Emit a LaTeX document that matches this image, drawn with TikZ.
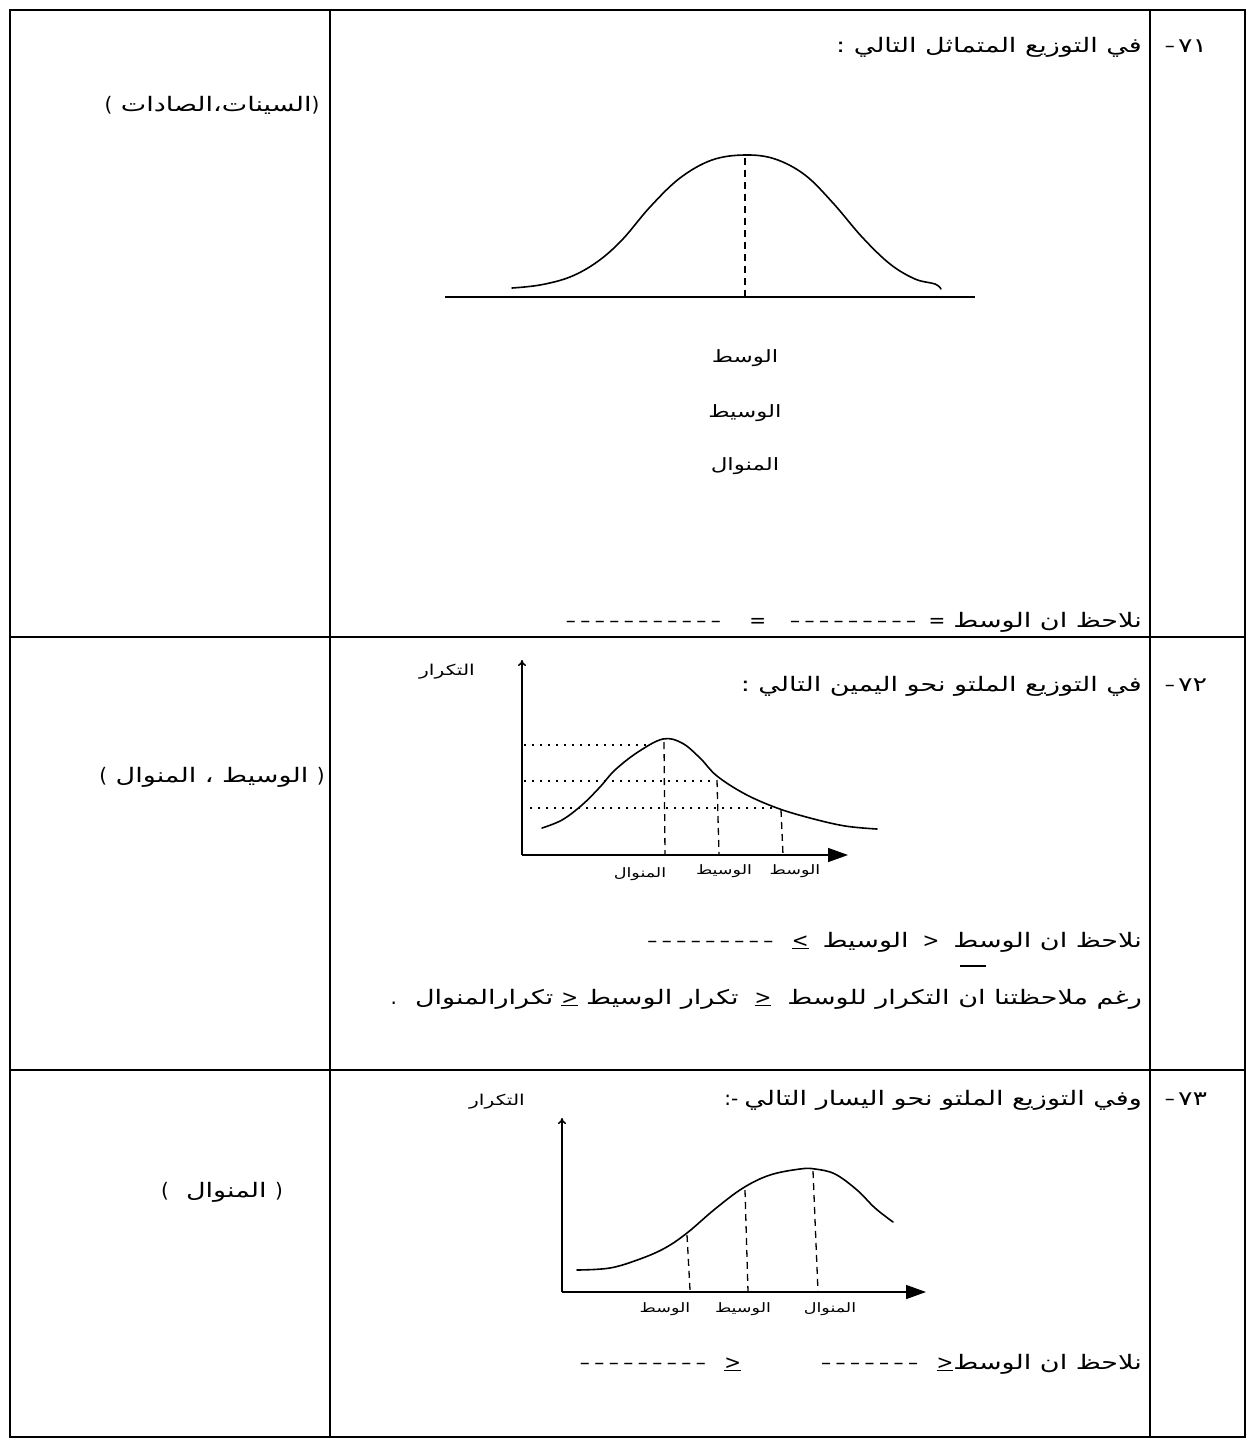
\documentclass[tikz,border=0pt]{standalone}
\usepackage{fontspec}
\TeXXeTstate=1
\newfontfamily\ar[Script=Arabic,FakeStretch=1.35]{DejaVu Sans}
\newfontfamily\lat{DejaVu Sans}
\usetikzlibrary{arrows.meta}
\newcommand{\AR}[1]{{\ar\beginR #1\endR}}
\newcommand{\dashrun}[1]{\hbox{\lat\foreach \k in {1,...,#1}{–\kern4.5pt}}}
\newcommand{\geu}{\vtop{\hbox{\lat >}\kern1pt\hrule height1.4pt}}
\newcommand{\leu}{\vtop{\hbox{\lat <}\kern1pt\hrule height1.4pt}}
\newcommand{\gtm}{\hbox{\lat >}}
\newcommand{\lp}{\hbox{\lat (}}
\newcommand{\rp}{\hbox{\lat )}}
\newcommand{\sym}[1]{\hbox{\lat #1}}
\begin{document}
\begin{tikzpicture}[x=1pt,y=-1pt,
  tbl/.style={line width=1.4pt},
  tblthick/.style={line width=2.2pt},
  txt/.style={inner sep=0pt, font=\ar\fontsize{20}{23}\selectfont},
  mid/.style={inner sep=0pt, font=\ar\fontsize{17}{20}\selectfont},
  lbl/.style={inner sep=0pt, font=\ar\fontsize{13}{15}\selectfont},
  axlbl/.style={inner sep=0pt, font=\ar\fontsize{15}{17}\selectfont},
  curve/.style={line width=1.6pt, line join=round, line cap=round},
  dsh/.style={line width=1.3pt, dash pattern=on 7pt off 5pt},
  dotl/.style={line width=1.5pt, dash pattern=on 1.5pt off 6.5pt},
  axis/.style={line width=1.5pt},
]
\useasboundingbox (0,0) rectangle (1252,1442);

% ---------- table ----------
\coordinate (TL) at (10,10);   \coordinate (TR) at (1245,10);
\coordinate (BL) at (10,1437); \coordinate (BR) at (1245,1437);
\coordinate (C1t) at (330,10); \coordinate (C1b) at (330,1437);
\coordinate (C2t) at (1150,10); \coordinate (C2b) at (1150,1437);
\coordinate (R1l) at (10,637); \coordinate (R1r) at (1245,637);
\coordinate (R2l) at (10,1070); \coordinate (R2r) at (1245,1070);
\draw[tbl] (TL) -- (TR) -- (BR) -- (BL) -- cycle;
\draw[tblthick] (C1t) -- (C1b);
\draw[tbl] (C2t) -- (C2b);
\draw[tbl] (R1l) -- (R1r);
\draw[tbl] (R2l) -- (R2r);

% ---------- row 71 ----------
\node[txt, anchor=base] (n71) at (1186,53) {\sym{–}\,\hbox{٧١}};
\node[txt, anchor=base east] (q71) at (1142,53) {\AR{في التوزيع المتماثل التالي :}};
\node[txt, anchor=base] (a71) at (212,112) {\lp\ \AR{السينات،الصادات}\rp};

\coordinate (b1l) at (445,297); \coordinate (b1r) at (975,297);
\draw[axis] (b1l) -- (b1r);
\draw[curve] plot[smooth, tension=0.6] coordinates {(512,288) (540,285) (570,277) (597,262) (622,240) (650,207) (680,178) (712,160) (745,155) (775,159) (805,175) (833,203) (862,237) (890,264) (915,279) (935,284) (941,289)};
\coordinate (m1t) at (745,158); \coordinate (m1b) at (745,297);
\draw[dsh] (m1t) -- (m1b);
\node[mid, anchor=base] (l1a) at (745,362) {\AR{الوسط}};
\node[mid, anchor=base] (l1b) at (745,417) {\AR{الوسيط}};
\node[mid, anchor=base] (l1c) at (745,470) {\AR{المنوال}};
\node[txt, anchor=base east] (s71) at (1142,627) {\dashrun{11}\hspace{24pt}\sym{=}\hspace{24pt}\dashrun{9}\hspace{8pt}\sym{=}\hspace{8pt}\AR{نلاحظ ان الوسط}};

% ---------- row 72 ----------
\node[txt, anchor=base] (n72) at (1186,691) {\sym{–}\,\hbox{٧٢}};
\node[txt, anchor=base east] (q72) at (1142,691) {\AR{في التوزيع الملتو نحو اليمين التالي :}};
\node[txt, anchor=base] (a72) at (212,782) {\lp\ \AR{الوسيط ، المنوال}\ \rp};

\coordinate (o2) at (522,855);
\coordinate (y2) at (522,660);
\coordinate (x2) at (848,855);
\draw[axis, -{To[length=6pt,width=8pt]}] (o2) -- (y2);
\draw[axis, -{Triangle[length=20pt,width=14pt]}] (o2) -- (x2);
\node[axlbl, anchor=base] (f2) at (447,675) {\AR{التكرار}};
\draw[curve] plot[smooth, tension=0.6] coordinates {(542,828) (562,820) (582,805) (600,787) (615,770) (638,752) (663,739) (682,743) (700,758) (717,776) (745,794) (777,808) (810,818) (845,826) (877,829)};
\coordinate (d2a) at (524,745); \coordinate (d2ae) at (650,745);
\coordinate (d2b) at (524,781); \coordinate (d2be) at (715,781);
\coordinate (d2c) at (530,808); \coordinate (d2ce) at (775,808);
\draw[dotl] (d2a) -- (d2ae);
\draw[dotl] (d2b) -- (d2be);
\draw[dotl] (d2c) -- (d2ce);
\coordinate (v2a) at (664,742); \coordinate (v2ab) at (665,855);
\coordinate (v2b) at (717,780); \coordinate (v2bb) at (719,855);
\coordinate (v2c) at (781,810); \coordinate (v2cb) at (783,855);
\draw[dsh] (v2a) -- (v2ab);
\draw[dsh] (v2b) -- (v2bb);
\draw[dsh] (v2c) -- (v2cb);
\node[lbl, anchor=base] (g2a) at (640,877) {\AR{المنوال}};
\node[lbl, anchor=base] (g2b) at (724,874) {\AR{الوسيط}};
\node[lbl, anchor=base] (g2c) at (795,874) {\AR{الوسط}};

\node[txt, anchor=base east] (s72a) at (1142,947) {\dashrun{9}\hspace{14pt}\leu\hspace{14pt}\AR{الوسيط}\hspace{14pt}\gtm\hspace{14pt}\AR{نلاحظ ان الوسط}};
\coordinate (u1) at (960,966); \coordinate (u2) at (986,966);
\draw[line width=1.4pt] (u1) -- (u2);
\node[txt, anchor=base east] (s72b) at (1142,1004) {\sym{.}\hspace{18pt}\AR{تكرارالمنوال}\hspace{8pt}\geu\hspace{8pt}\AR{تكرار الوسيط}\hspace{16pt}\geu\hspace{16pt}\AR{رغم ملاحظتنا ان التكرار للوسط}};

% ---------- row 73 ----------
\node[txt, anchor=base] (n73) at (1186,1105) {\sym{–}\,\hbox{٧٣}};
\node[txt, anchor=base east] (q73) at (1142,1105) {\sym{:-}\hspace{6pt}\AR{وفي التوزيع الملتو نحو اليسار التالي}};
\node[txt, anchor=base] (a73) at (222,1197) {\lp\ \ \AR{المنوال}\ \rp};

\coordinate (o3) at (562,1292);
\coordinate (y3) at (562,1118);
\coordinate (x3) at (926,1292);
\draw[axis, -{To[length=6pt,width=8pt]}] (o3) -- (y3);
\draw[axis, -{Triangle[length=20pt,width=14pt]}] (o3) -- (x3);
\node[axlbl, anchor=base] (f3) at (497,1105) {\AR{التكرار}};
\draw[curve] plot[smooth, tension=0.6] coordinates {(577,1270) (610,1268) (640,1259) (665,1248) (687,1233) (715,1209) (743,1188) (770,1175) (800,1169) (815,1169) (835,1174) (857,1190) (875,1208) (893,1222)};
\coordinate (v3a) at (687,1235); \coordinate (v3ab) at (690,1290);
\coordinate (v3b) at (745,1190); \coordinate (v3bb) at (748,1292);
\coordinate (v3c) at (813,1171); \coordinate (v3cb) at (818,1292);
\draw[dsh] (v3a) -- (v3ab);
\draw[dsh] (v3b) -- (v3bb);
\draw[dsh] (v3c) -- (v3cb);
\node[lbl, anchor=base] (g3a) at (665,1312) {\AR{الوسط}};
\node[lbl, anchor=base] (g3b) at (743,1312) {\AR{الوسيط}};
\node[lbl, anchor=base] (g3c) at (830,1312) {\AR{المنوال}};

\node[txt, anchor=base east] (s73) at (1142,1369) {\dashrun{9}\hspace{14pt}\geu\hspace{80pt}\dashrun{7}\hspace{14pt}\geu\AR{نلاحظ ان الوسط}};
\end{tikzpicture}
\end{document}
